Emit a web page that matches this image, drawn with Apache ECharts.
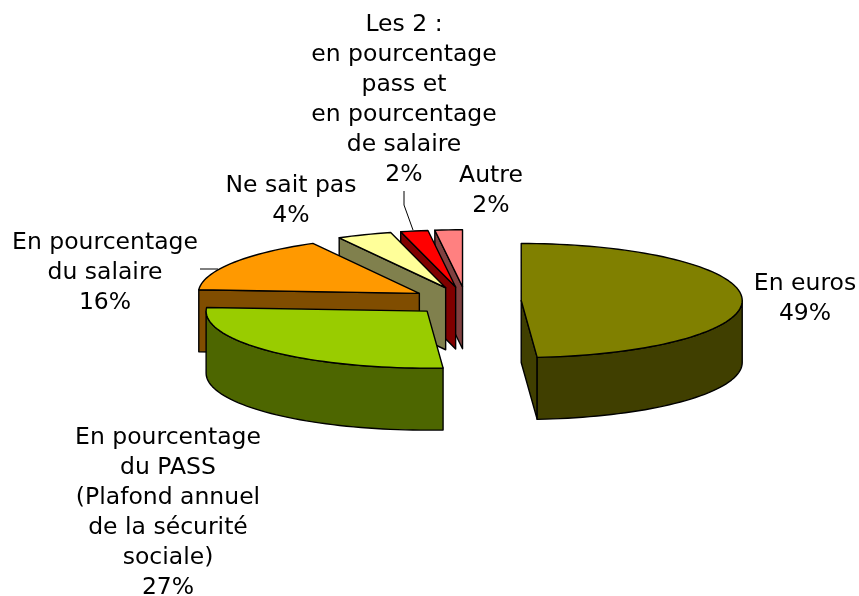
<!DOCTYPE html>
<html>
<head>
<meta charset="utf-8">
<title>Pie</title>
<style>
  html, body { margin: 0; padding: 0; background: #fff; }
  #chart { width: 859px; height: 596px; }
</style>
<script src="https://cdn.jsdelivr.net/npm/echarts@6/dist/echarts.min.js"></script>
</head>
<body>
<div id="chart"></div>
<script>
// values
const categories = [
  'En euros',
  'En pourcentage\ndu PASS\n(Plafond annuel\nde la sécurité\nsociale)',
  'En pourcentage\ndu salaire',
  'Ne sait pas',
  'Les 2 :\nen pourcentage\npass et\nen pourcentage\nde salaire',
  'Autre'
];
const values = [48.85, 27.15, 16, 4, 2, 2];

// colours, same order as categories
const topColors = ['#808000', '#99cc00', '#ff9900', '#ffff99', '#ff0000', '#ff8080'];
const wallColors = ['#403f00', '#4d6600', '#804d00', '#80804d', '#800000', '#804040'];

// pie layout
const cx = 466, cy = 301;
const rx = 221, ry = 57;
const depth = 62;
const explode = 0.25;

// label centres [x, y of the first line]
const labelPos = [
  [805, 284], [168, 438], [105, 243], [291, 186], [404, 25], [491, 176]
];
const leaders = [
  [[404, 191], [404, 205], [413, 230]],
  [[200, 269], [218, 269]]
];

const total = values.reduce((a, b) => a + b, 0);

function rad(deg) { return deg * Math.PI / 180; }

// angles go clockwise from 12 o'clock
function onEllipse(ox, oy, deg) {
  return [ox + rx * Math.sin(rad(deg)), oy - ry * Math.cos(rad(deg))];
}

function arcPoints(ox, oy, a0, a1) {
  const pts = [];
  const n = Math.max(2, Math.ceil(Math.abs(a1 - a0) / 2));
  for (let i = 0; i <= n; i++) {
    pts.push(onEllipse(ox, oy, a0 + (a1 - a0) * i / n));
  }
  return pts;
}

function face(points, fill) {
  return {
    type: 'polygon',
    shape: { points: points },
    style: { fill: fill, stroke: '#000', lineWidth: 1.4, lineJoin: 'round' }
  };
}

function sliceItem(i) {
  let sum = 0;
  for (let k = 0; k < i; k++) sum += values[k];
  const a0 = sum / total * 360;
  const a1 = (sum + values[i]) / total * 360;
  const mid = (a0 + a1) / 2;
  const ox = cx + explode * rx * Math.sin(rad(mid));
  const oy = cy - explode * ry * Math.cos(rad(mid));
  const children = [];
  const wall = wallColors[i];

  // side faces that look towards the viewer
  if (Math.sin(rad(a0)) < -0.001) {
    const p = onEllipse(ox, oy, a0);
    children.push(face([p, [ox, oy], [ox, oy + depth], [p[0], p[1] + depth]], wall));
  }
  if (Math.sin(rad(a1)) > 0.001) {
    const p = onEllipse(ox, oy, a1);
    children.push(face([[ox, oy], p, [p[0], p[1] + depth], [ox, oy + depth]], wall));
  }
  // outer wall, front half of the rim only
  const w0 = Math.max(a0, 90), w1 = Math.min(a1, 270);
  if (w1 > w0) {
    const upper = arcPoints(ox, oy, w0, w1);
    const lower = arcPoints(ox, oy + depth, w1, w0);
    children.push(face(upper.concat(lower), wall));
  }
  // top
  children.push(face([[ox, oy]].concat(arcPoints(ox, oy, a0, a1)), topColors[i]));
  return { type: 'group', children: children };
}

// paint from back to front
const midCos = values.map((v, i) => {
  const before = values.slice(0, i).reduce((a, b) => a + b, 0);
  return Math.cos(rad((before + v / 2) / total * 360));
});
const drawOrder = values.map((v, i) => i).sort((a, b) => midCos[b] - midCos[a]);

const chart = echarts.init(document.getElementById('chart'), null, { renderer: 'canvas' });

chart.setOption({
  animation: false,
  backgroundColor: '#fff',
  series: [{
    type: 'custom',
    coordinateSystem: 'none',
    silent: true,
    data: drawOrder.map(i => [i, values[i]]),
    renderItem: function (params, api) {
      return sliceItem(api.value(0));
    }
  }, {
    type: 'custom',
    coordinateSystem: 'none',
    silent: true,
    z: 5,
    data: leaders.map((l, i) => [i]),
    renderItem: function (params, api) {
      return {
        type: 'polyline',
        shape: { points: leaders[api.value(0)] },
        style: { fill: null, stroke: '#000', lineWidth: 1 }
      };
    }
  }, {
    type: 'custom',
    coordinateSystem: 'none',
    silent: true,
    z: 6,
    data: categories.map((c, i) => [i]),
    renderItem: function (params, api) {
      const i = api.value(0);
      return {
        type: 'text',
        style: {
          text: categories[i] + '\n' + Math.round(values[i]) + '%',
          x: labelPos[i][0],
          y: labelPos[i][1] - 15,
          align: 'center',
          verticalAlign: 'top',
          fontFamily: 'DejaVu Sans',
          fontSize: 23.5,
          lineHeight: 30,
          fill: '#000'
        }
      };
    }
  }]
});
</script>
</body>
</html>
